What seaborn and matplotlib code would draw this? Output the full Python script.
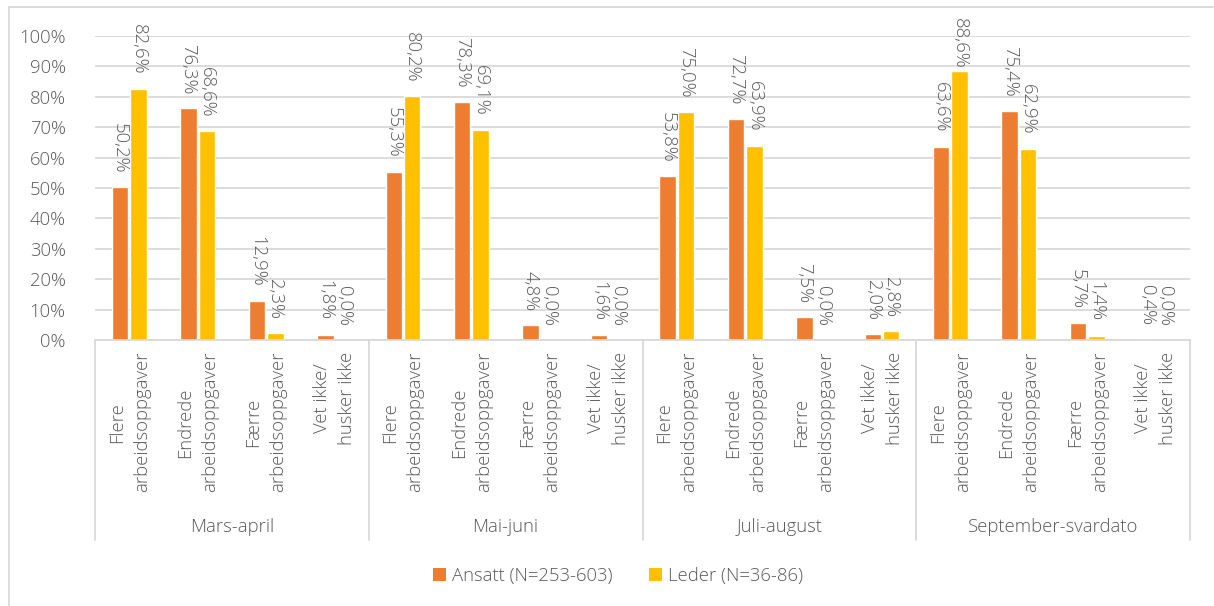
import matplotlib
matplotlib.use("Agg")
import matplotlib.pyplot as plt
from matplotlib.lines import Line2D
from matplotlib.patches import Patch
import seaborn as sns
import pandas as pd

# Survey periods and answer categories
periods = ["Mars-april", "Mai-juni", "Juli-august", "September-svardato"]
answers = ["Flere\narbeidsoppgaver", "Endrede\narbeidsoppgaver",
           "Færre\narbeidsoppgaver", "Vet ikke/\nhusker ikke"]
series = ["Ansatt (N=253-603)", "Leder (N=36-86)"]

# Share of respondents (%) per period, in answer order
ansatt = [50.2, 76.3, 12.9, 1.8,
          55.3, 78.3, 4.8, 1.6,
          53.8, 72.7, 7.5, 2.0,
          63.6, 75.4, 5.7, 0.4]
leder = [82.6, 68.6, 2.3, 0.0,
         80.2, 69.1, 0.0, 0.0,
         75.0, 63.9, 0.0, 2.8,
         88.6, 62.9, 1.4, 0.0]

colors = ["#ED7D31", "#FFC000"]
text_color = "#595959"
grid_color = "#D9D9D9"
fs = 13.3

sns.set_theme(style="white")
plt.rcParams["font.family"] = ["Open Sans", "DejaVu Sans"]
plt.rcParams["font.weight"] = "light"

keys = [f"{p}|{a}" for p in periods for a in answers]
rows = []
for k, a_val, l_val in zip(keys, ansatt, leder):
    rows.append({"key": k, "serie": series[0], "value": a_val / 100})
    rows.append({"key": k, "serie": series[1], "value": l_val / 100})
df = pd.DataFrame(rows)

W, H = 1214, 606
AX_TOP, AX_BOTTOM = 36, 340
fig = plt.figure(figsize=(W / 100, H / 100), dpi=100)
ax = fig.add_axes([95 / W, 1 - AX_BOTTOM / H, (1190 - 95) / W, (AX_BOTTOM - AX_TOP) / H])

sns.barplot(data=df, x="key", y="value", hue="serie", order=keys,
            hue_order=series, palette=colors, width=0.54, gap=0.11,
            saturation=1, legend=False, ax=ax)

ax.set_ylim(0, 1.0)
ax.set_xlim(-0.5, len(keys) - 0.5)
ax.set_yticks([i / 10 for i in range(11)])
ax.set_yticklabels([f"{i * 10}%" for i in range(11)], color=text_color, fontsize=fs)
ax.tick_params(axis="y", length=0, pad=21)
ax.set_xticks([])
ax.set_xlabel("")
ax.set_ylabel("")
ax.yaxis.grid(True, color=grid_color, linewidth=1.3)
ax.set_axisbelow(True)
for s in ax.spines.values():
    s.set_visible(False)

# Value labels, rotated, above each bar; kept inside the chart area at the top
label_len_px = 52
top_limit_px = 17
for container in ax.containers:
    for bar in container:
        h = bar.get_height()
        label = f"{h * 100:.1f}%".replace(".", ",")
        bar_top_px = AX_BOTTOM - (AX_BOTTOM - AX_TOP) * h
        gap_px = min(14.0, bar_top_px - label_len_px - top_limit_px)
        ax.annotate(label, (bar.get_x() + bar.get_width() / 2, h),
                    xytext=(0, gap_px * 72 / 100), textcoords="offset points",
                    rotation=270, ha="center", va="bottom",
                    fontsize=fs, color=text_color, annotation_clip=False)

# Two-level category axis drawn below the plot
trans = ax.get_xaxis_transform()
span = AX_BOTTOM - AX_TOP
y_line_bottom = -(540 - AX_BOTTOM) / span
ax.add_line(Line2D([-0.5, len(keys) - 0.5], [0, 0], transform=trans,
                   color=grid_color, linewidth=1.3, clip_on=False))
for g in range(len(periods) + 1):
    x = g * len(answers) - 0.5
    ax.add_line(Line2D([x, x], [0, y_line_bottom], transform=trans,
                       color=grid_color, linewidth=1.3, clip_on=False))

y_ticklabel = -(352 - AX_BOTTOM) / span
y_group = -(527 - AX_BOTTOM) / span
for i, k in enumerate(keys):
    ax.text(i, y_ticklabel, answers[i % len(answers)], transform=trans,
            rotation=90, ha="center", va="top", multialignment="center",
            fontsize=fs, color=text_color, linespacing=1.5)
for g, p in enumerate(periods):
    xc = g * len(answers) + (len(answers) - 1) / 2
    ax.text(xc, y_group, p, transform=trans, ha="center", va="center",
            fontsize=fs, color=text_color)

# Legend
handles = [Patch(facecolor=c, edgecolor="none") for c in colors]
fig.legend(handles, series, loc="center", bbox_to_anchor=(618 / W, 1 - 576 / H),
           ncol=2, frameon=False, fontsize=fs, labelcolor=text_color,
           handlelength=0.7, handleheight=0.7, handletextpad=0.3,
           columnspacing=2.0)

# Chart-area border
fig.add_artist(Line2D([9 / W, 9 / W], [0, 1 - 7 / H], transform=fig.transFigure,
                      color=grid_color, linewidth=1.3))
fig.add_artist(Line2D([9 / W, 1213 / W], [1 - 7 / H, 1 - 7 / H],
                      transform=fig.transFigure, color=grid_color, linewidth=1.3))

fig.savefig("out.png", dpi=100, facecolor="white")
